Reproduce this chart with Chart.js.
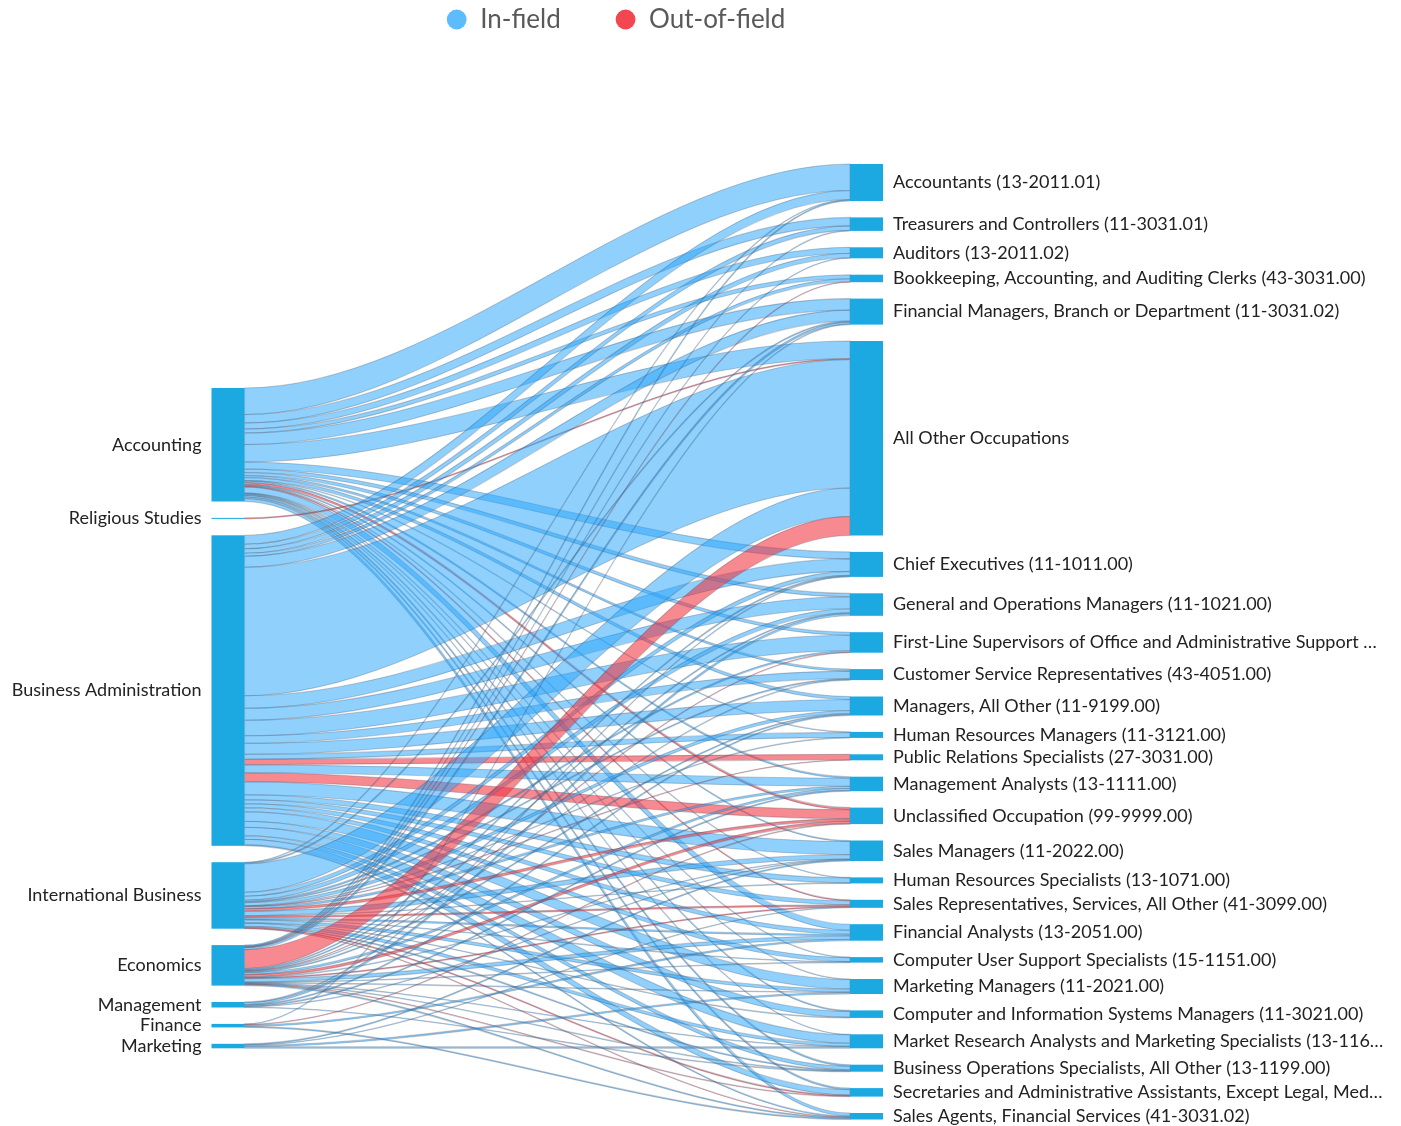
<!DOCTYPE html>
<html>
<head>
<meta charset="utf-8">
<script src="https://cdn.jsdelivr.net/npm/chart.js@4.4.1/dist/chart.umd.min.js"></script>
<style>
html,body{margin:0;padding:0;background:#ffffff;}
canvas{display:block;}
</style>
</head>
<body>
<canvas id="chart" width="1401" height="1126"></canvas>
<script>
// ---------------- DATA ----------------
const majors = ['Accounting', 'Religious Studies', 'Business Administration', 'International Business',
  'Economics', 'Management', 'Finance', 'Marketing'];

const occupations = [
  'Accountants (13-2011.01)',
  'Treasurers and Controllers (11-3031.01)',
  'Auditors (13-2011.02)',
  'Bookkeeping, Accounting, and Auditing Clerks (43-3031.00)',
  'Financial Managers, Branch or Department (11-3031.02)',
  'All Other Occupations',
  'Chief Executives (11-1011.00)',
  'General and Operations Managers (11-1021.00)',
  'First-Line Supervisors of Office and Administrative Support \u2026',
  'Customer Service Representatives (43-4051.00)',
  'Managers, All Other (11-9199.00)',
  'Human Resources Managers (11-3121.00)',
  'Public Relations Specialists (27-3031.00)',
  'Management Analysts (13-1111.00)',
  'Unclassified Occupation (99-9999.00)',
  'Sales Managers (11-2022.00)',
  'Human Resources Specialists (13-1071.00)',
  'Sales Representatives, Services, All Other (41-3099.00)',
  'Financial Analysts (13-2051.00)',
  'Computer User Support Specialists (15-1151.00)',
  'Marketing Managers (11-2021.00)',
  'Computer and Information Systems Managers (11-3021.00)',
  'Market Research Analysts and Marketing Specialists (13-116\u2026',
  'Business Operations Specialists, All Other (13-1199.00)',
  'Secretaries and Administrative Assistants, Except Legal, Med\u2026',
  'Sales Agents, Financial Services (41-3031.02)'
];

// one value per occupation (same order as above)
const accountingIn     = [26.5, 8.5, 6, 4, 11.5, 17.5, 7, 3.5, 3, 2, 3, 0.5, 0, 1.5, 0, 1, 0.5, 0, 6, 0.5, 0.5, 1, 0.5, 1.5, 1.5, 3];
const accountingOut    = [0, 0, 0, 0, 0, 0, 0, 0, 0, 0, 0, 0, 0, 0, 2, 0, 0, 1, 0, 0, 0, 0, 0, 0, 0, 0];
const religiousIn      = [0, 0, 0, 0, 0, 0, 0, 0, 0, 0, 0, 0, 0, 0, 0, 0, 0, 0, 0, 0, 0, 0, 0, 0, 0, 0];
const religiousOut     = [0, 0, 0, 0, 0, 1, 0, 0, 0, 0, 0, 0, 0, 0, 0, 0, 0, 0, 0, 0, 0, 0, 0, 0, 0, 0];
const businessIn       = [9, 4.5, 4.5, 3, 11, 128.5, 12.5, 12, 15.5, 7.5, 11, 5, 0, 8, 0, 13, 5, 4, 4, 4, 9.5, 6, 8.5, 3.5, 5.5, 1];
const businessOut      = [0, 0, 0, 0, 0, 0, 0, 0, 0, 0, 0, 0, 5.5, 0, 9, 0, 0, 0, 0, 0, 0, 0, 0, 0, 0, 0];
const internationalIn  = [0.5, 0, 0, 0, 1, 28.5, 4, 4, 1.5, 1, 3, 0.5, 0, 2, 0, 4.5, 0.5, 0, 1.5, 0.5, 3, 0.5, 3, 1, 0, 0];
const internationalOut = [0, 0, 0, 0, 0, 0, 0, 0, 0, 0, 0, 0, 0.5, 0, 2.5, 0, 0, 1.5, 0, 0, 0, 0, 0, 0, 1, 0.5];
const economicsIn      = [1, 0.5, 0.5, 0, 2, 0, 1, 1, 0, 0.5, 1, 0, 0, 2, 0, 0.5, 0, 0, 3.5, 0.5, 0.5, 0, 0.5, 0.5, 0, 1];
const economicsOut     = [0, 0, 0, 0.5, 0, 19, 0, 0, 0.5, 0, 0, 0, 0, 0, 2.5, 0, 0, 1, 0, 0, 0, 0, 0, 0, 0.5, 0];
const managementIn     = [0, 0, 0, 0, 0, 0, 0.5, 2, 0, 0, 1, 0, 0, 1, 0, 0.5, 0, 0, 0, 0, 0, 0, 0, 0.5, 0, 0];
const managementOut    = [0, 0, 0, 0, 0, 0, 0, 0, 0, 0, 0, 0, 0, 0, 0, 0, 0, 0, 0, 0, 0, 0, 0, 0, 0, 0];
const financeIn        = [0, 0, 0, 0, 0.5, 0, 0, 0, 0, 0, 0, 0, 0, 0, 0, 0, 0, 0, 1.5, 0, 0, 0, 0, 0, 0, 1];
const financeOut       = [0, 0, 0, 0, 0, 0, 0, 0, 0, 0, 0, 0, 0, 0, 0.5, 0, 0, 0, 0, 0, 0, 0, 0, 0, 0, 0];
const marketingIn      = [0, 0, 0, 0, 0, 0, 0, 0, 0, 0, 0, 0, 0, 0, 0, 1, 0, 0.5, 0, 0, 1.5, 0, 1.5, 0, 0, 0];
const marketingOut     = [0, 0, 0, 0, 0, 0, 0, 0, 0, 0, 0, 0, 0, 0, 0, 0, 0, 0, 0, 0, 0, 0, 0, 0, 0, 0];

const seriesNames = ['In-field', 'Out-of-field'];

// ---------------- STYLE / LAYOUT ----------------
const inRows  = [accountingIn, religiousIn, businessIn, internationalIn, economicsIn, managementIn, financeIn, marketingIn];
const outRows = [accountingOut, religiousOut, businessOut, internationalOut, economicsOut, managementOut, financeOut, marketingOut];

const NODE_W = 33;
const NODE_PAD = 16.4;          // gap between nodes (value units)
const LEFT_COLUMN_START = 224;  // offset of first major in value units
const CURVE = 0.33;
const NODE_COLOR = '#1ca9e1';
const LINK_COLORS = ['rgba(40,165,252,0.52)', 'rgba(242,52,64,0.58)'];
const LINK_EDGE = 'rgba(60,72,90,0.27)';
const LABEL_FONT = '18px Lato';
const LABEL_COLOR = '#222222';

const sankeyPlugin = {
  id: 'sankeyFlows',
  afterDatasetsDraw(chart) {
    const ctx = chart.ctx;
    const xs = chart.scales.x, ys = chart.scales.y;
    const srcTot = majors.map((_, i) => occupations.reduce((s, __, j) => s + inRows[i][j] + outRows[i][j], 0));
    const tgtTot = occupations.map((_, j) => majors.reduce((s, __, i) => s + inRows[i][j] + outRows[i][j], 0));
    const srcTop = []; let acc = LEFT_COLUMN_START;
    srcTot.forEach(t => { srcTop.push(acc); acc += t + NODE_PAD; });
    const tgtTop = []; acc = 0;
    tgtTot.forEach(t => { tgtTop.push(acc); acc += t + NODE_PAD; });

    const xL = xs.getPixelForValue(0), xR = xs.getPixelForValue(1);
    const x0 = xL + NODE_W, x1 = xR, c = (x1 - x0) * CURVE;
    const py = v => ys.getPixelForValue(v);
    const srcOff = srcTot.map(() => 0), tgtOff = tgtTot.map(() => 0);

    ctx.save();
    ctx.lineWidth = 1.1;
    ctx.strokeStyle = LINK_EDGE;
    majors.forEach((_, i) => {
      occupations.forEach((__, j) => {
        [inRows, outRows].forEach((rows, k) => {
          const v = rows[i][j];
          if (!v) return;
          const a0 = py(srcTop[i] + srcOff[i]), a1 = py(srcTop[i] + srcOff[i] + v);
          const b0 = py(tgtTop[j] + tgtOff[j]), b1 = py(tgtTop[j] + tgtOff[j] + v);
          srcOff[i] += v; tgtOff[j] += v;
          ctx.beginPath();
          ctx.moveTo(x0, a0);
          ctx.bezierCurveTo(x0 + c, a0, x1 - c, b0, x1, b0);
          ctx.lineTo(x1, b1);
          ctx.bezierCurveTo(x1 - c, b1, x0 + c, a1, x0, a1);
          ctx.closePath();
          ctx.fillStyle = LINK_COLORS[k];
          ctx.fill();
          ctx.stroke();
        });
      });
    });

    // nodes
    ctx.fillStyle = NODE_COLOR;
    majors.forEach((_, i) => {
      const t = py(srcTop[i]), b = py(srcTop[i] + srcTot[i]);
      ctx.fillRect(xL, t, NODE_W, Math.max(1, b - t));
    });
    occupations.forEach((_, j) => {
      const t = py(tgtTop[j]), b = py(tgtTop[j] + tgtTot[j]);
      ctx.fillRect(xR, t, NODE_W, Math.max(1, b - t));
    });

    // labels
    ctx.font = LABEL_FONT;
    ctx.fillStyle = LABEL_COLOR;
    ctx.textBaseline = 'middle';
    ctx.textAlign = 'right';
    majors.forEach((m, i) => {
      ctx.fillText(m, xL - 10, py(srcTop[i] + srcTot[i] / 2));
    });
    ctx.textAlign = 'left';
    occupations.forEach((o, j) => {
      ctx.fillText(o, xR + NODE_W + 10, py(tgtTop[j] + tgtTot[j] / 2));
    });
    ctx.restore();
  }
};

function build() {
  new Chart(document.getElementById('chart'), {
    type: 'scatter',
    data: {
      datasets: seriesNames.map((name, k) => ({
        label: name,
        data: [],
        backgroundColor: k === 0 ? '#5dbdfc' : '#f3474f',
        borderColor: k === 0 ? '#5dbdfc' : '#f3474f',
        pointBackgroundColor: k === 0 ? '#5dbdfc' : '#f3474f',
        borderWidth: 0,
        pointBorderWidth: 0,
        pointStyle: 'circle'
      }))
    },
    options: {
      responsive: false,
      animation: false,
      devicePixelRatio: 1,
      layout: { padding: { left: 391.9, top: -47.8, right: 0, bottom: 0 } },
      scales: {
        x: { type: 'linear', display: false, min: 0.28254, max: 1.86296 },
        y: { type: 'linear', display: false, reverse: true, min: -121.5, max: 962 }
      },
      plugins: {
        tooltip: { enabled: false },
        legend: {
          position: 'top',
          align: 'start',
          labels: {
            usePointStyle: true,
            pointStyle: 'circle',
            boxWidth: 21,
            boxHeight: 14,
            padding: 54.3,
            color: '#595959',
            font: { family: 'Lato', size: 26 }
          }
        }
      }
    },
    plugins: [sankeyPlugin]
  });
}

if (document.fonts && document.fonts.load) {
  Promise.all([document.fonts.load('18px Lato'), document.fonts.load('26px Lato')]).then(build, build);
} else {
  build();
}
</script>
</body>
</html>
